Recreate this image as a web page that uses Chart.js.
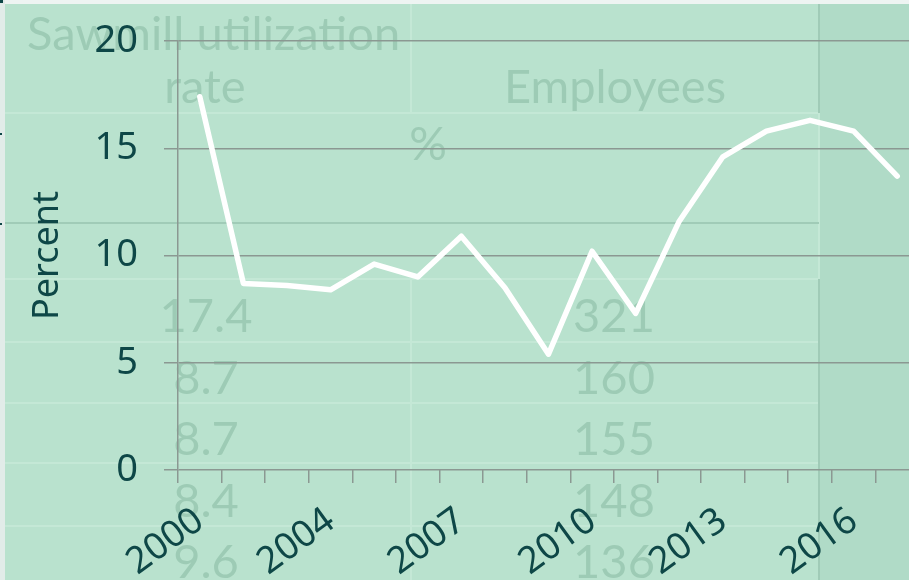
<!doctype html>
<html lang="en">

<head>
  <meta charset="UTF-8" />
  <title>Sawmill utilization rate</title>
  <script src="https://cdn.jsdelivr.net/npm/chart.js@4.4.1/dist/chart.umd.min.js"></script>
  <style>
    html, body { margin: 0; padding: 0; overflow: hidden; background: #b9e2ce; }
    /* plot runs past the right edge of the window, like the reference crop */
    .chart-wrap { position: relative; width: 919px; height: 580px; }
  </style>
</head>

<body>
  <div class="chart-wrap">
    <canvas id="lineChart"></canvas>
  </div>
  <script>
    // chart data
    const years = ['2000', '2002', '2003', '2004', '2005', '2006', '2007', '2008', '2009',
      '2010', '2011', '2012', '2013', '2014', '2015', '2016', '2017'];
    const utilization = [17.4, 8.7, 8.6, 8.4, 9.6, 9.0, 10.9, 8.5, 5.4, 10.2, 7.3, 11.6, 14.6, 15.8, 16.3, 15.8, 13.7];
    const shownYears = ['2000', '2004', '2007', '2010', '2013', '2016'];
    const yTicks = [0, 5, 10, 15, 20];

    // faint table showing through behind the chart
    const bgHeader = ['Sawmill utilization', 'rate', 'Employees', '%'];
    const bgRate = ['17.4', '8.7', '8.7', '8.4', '9.6'];
    const bgEmployees = ['321', '160', '155', '148', '136'];

    const ink = '#0e4747';
    const gridGray = '#8b9892';

    const backdrop = {
      id: 'backdrop',
      beforeDraw: function (chart) {
        const c = chart.ctx;
        const w = chart.width, h = chart.height;
        c.save();
        c.fillStyle = '#b9e2ce';
        c.fillRect(0, 0, w, h);
        c.fillStyle = '#b0dbc7';
        c.fillRect(820, 0, w - 820, h);
        // frame remnants
        c.fillStyle = '#eef4f2';
        c.fillRect(0, 0, w, 4);
        c.fillStyle = '#e2ece9';
        c.fillRect(0, 0, 5, h);
        c.fillStyle = ink;
        c.fillRect(0, 0, 3, 3);
        c.fillRect(0, 133, 2, 2);
        c.fillRect(0, 223, 2, 2);

        // table rules
        c.lineWidth = 2;
        c.strokeStyle = '#c4e8d6';
        [113, 279, 342, 403, 463, 526].forEach(function (y) {
          c.beginPath(); c.moveTo(5, y); c.lineTo(819, y); c.stroke();
        });
        c.beginPath(); c.moveTo(411, 4); c.lineTo(411, 113); c.stroke();
        c.beginPath(); c.moveTo(411, 279); c.lineTo(411, h); c.stroke();
        c.beginPath(); c.moveTo(819, 113); c.lineTo(819, 279); c.stroke();
        c.strokeStyle = '#a0cbb7';
        c.beginPath(); c.moveTo(5, 223); c.lineTo(819, 223); c.stroke();
        c.beginPath(); c.moveTo(819, 4); c.lineTo(819, 113); c.stroke();
        c.beginPath(); c.moveTo(819, 279); c.lineTo(819, h); c.stroke();

        // table text
        c.fillStyle = '#9dcbb5';
        c.font = '47px Lato';
        c.textBaseline = 'alphabetic';
        c.textAlign = 'left';
        c.fillText(bgHeader[0], 27, 50);
        c.textAlign = 'center';
        c.fillText(bgHeader[1], 205, 103);
        c.fillText(bgHeader[2], 615, 103);
        c.fillText(bgHeader[3], 428, 160);
        bgRate.forEach(function (t, i) { c.fillText(t, 206, 332 + i * 61.5); });
        bgEmployees.forEach(function (t, i) { c.fillText(t, 614, 332 + i * 61.5); });
        c.restore();
      }
    };

    const ctx = document.getElementById('lineChart').getContext('2d');
    const lineChart = new Chart(ctx, {
      type: 'line',
      plugins: [backdrop],
      data: {
        labels: years,
        datasets: [{
          data: utilization,
          borderColor: '#ffffff',
          borderWidth: 5.5,
          borderJoinStyle: 'round',
          borderCapStyle: 'round',
          pointRadius: 0,
          tension: 0,
          fill: false
        }]
      },
      options: {
        responsive: true,
        maintainAspectRatio: false,
        animation: false,
        layout: {
          padding: { top: 41, right: 0, bottom: 0, left: 0 }
        },
        plugins: {
          legend: { display: false },
          tooltip: { enabled: false }
        },
        scales: {
          x: {
            type: 'category',
            offset: true,
            afterFit: function (scale) {
              scale.height = 110;
              scale.paddingLeft = 0;
              scale.paddingRight = 0;
            },
            grid: {
              offset: true,
              drawOnChartArea: false,
              drawTicks: true,
              tickLength: 13,
              color: gridGray,
              lineWidth: 1.5
            },
            border: { display: false },
            ticks: {
              autoSkip: false,
              maxRotation: 36,
              minRotation: 36,
              padding: 16,
              color: ink,
              font: { family: 'Noto Sans', size: 37 },
              callback: function (value, index) {
                const y = years[index];
                return shownYears.indexOf(y) > -1 ? y : '';
              }
            }
          },
          y: {
            min: yTicks[0],
            max: yTicks[yTicks.length - 1],
            afterFit: function (scale) {
              scale.width = 178;
              scale.paddingTop = 0;
              scale.paddingBottom = 0;
            },
            grid: {
              color: gridGray,
              lineWidth: 1.5,
              tickLength: 14
            },
            border: { color: gridGray, width: 1.5 },
            ticks: {
              stepSize: 5,
              padding: 26,
              color: ink,
              font: { family: 'Noto Sans', size: 38 }
            },
            title: {
              display: true,
              text: 'Percent',
              color: ink,
              font: { family: 'Noto Sans', size: 36 },
              padding: { top: 26, bottom: 0 }
            }
          }
        }
      }
    });
  </script>
</body>

</html>
